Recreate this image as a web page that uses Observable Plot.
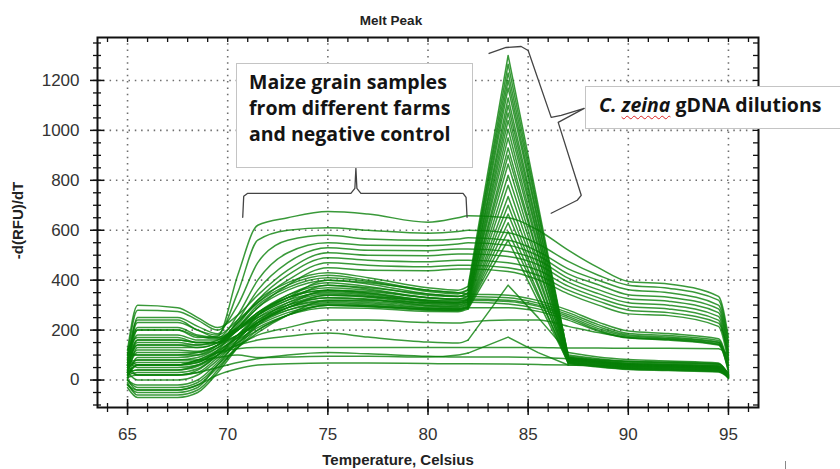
<!DOCTYPE html>
<html><head><meta charset="utf-8">
<script src="https://cdn.jsdelivr.net/npm/d3@7"></script>
<script src="https://cdn.jsdelivr.net/npm/@observablehq/plot@0.6"></script>
<style>
body{margin:0;background:#fff;}
#wrap{position:relative;width:840px;height:469px;overflow:hidden;}
#wrap svg{display:block;}
.box{position:absolute;background:#fff;border:1px solid #c4c4c4;box-sizing:border-box;}
.ann{position:absolute;font-family:"Open Sans",sans-serif;font-weight:700;font-size:19.5px;color:#141414;line-height:26px;white-space:nowrap;}
.wavy{text-decoration:underline wavy #d22;text-decoration-thickness:1px;text-underline-offset:3px;}
</style></head><body>
<div id="wrap"></div>
<script>
// Temperature grid (°C) shared by all curves
const temps = [65, 65.5, 67.5, 68.5, 69.5, 70.5, 71.5, 73, 75, 77, 80, 81.5, 82, 84, 85.5, 87, 88.5, 90, 92, 94.5, 95];

// C. zeina gDNA dilutions (melt peak at ~84 °C)
const zeinaCurves = [
  [60, 140, 140, 130, 150, 230, 320, 390, 430, 410, 370, 360, 375, 1300, 700, 95, 82, 72, 68, 62, 18],
  [20, 60, 60, 70, 120, 210, 300, 370, 410, 395, 355, 345, 360, 1265, 680, 92, 78, 68, 64, 58, 15],
  [90, 240, 240, 200, 180, 240, 310, 380, 420, 400, 360, 350, 362, 1230, 665, 100, 85, 75, 70, 64, 25],
  [0, -30, -30, -10, 60, 160, 260, 340, 390, 375, 340, 335, 350, 1200, 642, 85, 72, 62, 58, 52, 12],
  [40, 110, 110, 110, 140, 210, 290, 360, 400, 385, 345, 335, 345, 1170, 630, 90, 76, 66, 62, 56, 22],
  [120, 170, 170, 150, 150, 200, 270, 340, 380, 365, 330, 322, 335, 1130, 606, 82, 70, 60, 56, 50, 20],
  [10, 20, 20, 40, 100, 180, 260, 330, 370, 360, 330, 325, 338, 1100, 594, 88, 74, 64, 60, 54, 18],
  [70, 80, 80, 90, 130, 200, 270, 330, 360, 350, 320, 315, 326, 1070, 574, 78, 66, 56, 52, 46, 14],
  [-10, -60, -60, -40, 40, 140, 230, 310, 355, 345, 315, 310, 322, 1040, 563, 86, 72, 62, 58, 52, 25],
  [50, 120, 120, 115, 140, 200, 260, 320, 350, 340, 312, 306, 318, 1005, 540, 76, 62, 52, 48, 42, 12],
  [100, 200, 200, 175, 165, 210, 270, 330, 360, 348, 318, 310, 322, 970, 527, 84, 70, 60, 56, 50, 20],
  [30, 0, 0, 20, 80, 160, 240, 300, 340, 332, 305, 300, 312, 930, 502, 74, 60, 50, 46, 40, 16],
  [80, 50, 50, 60, 110, 180, 250, 310, 345, 335, 308, 302, 314, 900, 495, 90, 74, 64, 60, 54, 28],
  [-30, -70, -70, -50, 30, 130, 220, 290, 330, 325, 300, 296, 308, 865, 468, 72, 58, 48, 44, 38, 10],
  [60, 150, 150, 140, 150, 200, 250, 300, 330, 322, 298, 293, 305, 820, 452, 84, 70, 60, 56, 50, 22],
  [20, 30, 30, 45, 100, 170, 230, 290, 320, 315, 295, 290, 302, 780, 425, 70, 56, 46, 42, 36, 14],
  [110, 100, 100, 100, 130, 180, 240, 290, 315, 310, 290, 286, 298, 735, 408, 80, 66, 56, 52, 46, 24],
  [0, -20, -20, 0, 70, 150, 220, 280, 310, 305, 288, 284, 295, 700, 384, 68, 54, 44, 40, 34, 12],
  [50, 70, 70, 75, 115, 170, 230, 280, 305, 300, 285, 282, 292, 665, 374, 82, 68, 58, 54, 48, 20],
  [-20, -40, -40, -20, 50, 130, 200, 260, 300, 298, 282, 280, 290, 630, 348, 66, 52, 42, 38, 32, 8],
  [70, 160, 160, 150, 150, 180, 220, 270, 300, 295, 280, 278, 288, 595, 336, 78, 64, 54, 50, 44, 18],
  [30, 40, 40, 55, 100, 160, 210, 260, 290, 288, 275, 274, 284, 560, 315, 70, 56, 46, 42, 36, 14]
];

// Small secondary bumps
const bumpCurves = [
  [90, 60, 60, 70, 110, 140, 160, 175, 188, 172, 152, 148, 160, 380, 250, 110, 92, 82, 76, 68, 20],
  [40, 80, 80, 80, 90, 100, 90, 92, 95, 95, 92, 100, 108, 172, 110, 60, 56, 54, 52, 45, 5]
];

// Maize grain samples, high plateau
const maizeHigh = [
  [40, 200, 200, 170, 175, 420, 620, 650, 675, 665, 632, 650, 658, 650, 600, 520, 450, 395, 385, 335, 170],
  [20, 250, 250, 215, 185, 350, 560, 600, 610, 600, 588, 595, 600, 590, 545, 475, 420, 380, 368, 320, 150],
  [100, 280, 275, 240, 200, 300, 470, 560, 580, 565, 560, 565, 570, 560, 515, 445, 400, 362, 350, 300, 140],
  [60, 230, 230, 200, 170, 260, 400, 510, 550, 540, 538, 545, 550, 540, 498, 425, 382, 342, 332, 285, 120],
  [30, 160, 160, 150, 150, 240, 360, 470, 530, 520, 518, 525, 525, 515, 480, 408, 362, 326, 316, 270, 110],
  [120, 300, 290, 250, 210, 260, 340, 440, 510, 500, 498, 505, 505, 495, 462, 392, 346, 310, 300, 255, 90],
  [0, 90, 90, 100, 140, 220, 320, 420, 490, 480, 474, 480, 480, 470, 440, 376, 330, 295, 285, 240, 80],
  [70, 180, 180, 160, 160, 230, 310, 400, 470, 460, 454, 460, 460, 450, 420, 360, 316, 280, 270, 228, 100],
  [10, 130, 130, 130, 150, 210, 290, 380, 450, 440, 438, 445, 445, 435, 402, 345, 300, 265, 258, 215, 70]
];

// Maize grain samples, mid plateau
const maizeMid = [
  [50, 140, 140, 140, 160, 200, 260, 330, 400, 390, 360, 350, 345, 340, 318, 280, 232, 196, 186, 165, 60],
  [80, 210, 210, 180, 170, 210, 260, 320, 380, 370, 345, 336, 335, 330, 308, 270, 222, 186, 178, 158, 50],
  [20, 60, 60, 80, 120, 170, 230, 300, 360, 355, 330, 325, 325, 320, 300, 262, 214, 180, 172, 152, 40],
  [100, 100, 100, 110, 140, 180, 230, 290, 340, 335, 320, 318, 320, 315, 295, 255, 206, 175, 168, 150, 30],
  [-20, -50, -50, -30, 60, 130, 190, 260, 320, 320, 310, 310, 312, 305, 285, 248, 200, 170, 165, 145, 60],
  [40, 20, 20, 30, 90, 150, 200, 260, 300, 295, 285, 285, 290, 290, 275, 240, 196, 168, 162, 142, 80],
  [30, 40, 40, 60, 100, 140, 180, 210, 240, 240, 230, 228, 232, 240, 240, 215, 190, 170, 160, 140, 40]
];

// Negative controls / low curves
const lowCurves = [
  [30, 60, 60, 80, 110, 125, 130, 130, 130, 130, 130, 130, 130, 130, 130, 128, 128, 127, 127, 125, 100],
  [0, -40, -40, -20, 20, 45, 60, 65, 68, 68, 66, 65, 65, 64, 62, 60, 58, 56, 54, 48, 10],
  [60, 20, 20, 30, 50, 70, 85, 100, 110, 105, 95, 92, 92, 92, 90, 85, 80, 75, 72, 65, 20]
];

// Axis ticks
const xMajor = [65, 70, 75, 80, 85, 90, 95];
const xMinor = d3.range(64, 97, 1);
const yMajor = [0, 200, 400, 600, 800, 1000, 1200];
const yMinor = d3.range(-100, 1351, 50);

// Annotation braces (in data units)
const brace1T = [70.75, 70.8, 71.0, 76.15, 76.35, 76.4, 76.45, 76.65, 81.75, 81.9, 81.95];
const brace1V = [652, 736, 748, 748, 768, 848, 768, 748, 748, 732, 652];
const brace2T = [83.05, 83.9, 84.65, 85.0, 86.15, 86.65, 87.8, 86.5, 87.65, 87.45, 86.15];
const brace2V = [1308, 1332, 1336, 1320, 1052, 1060, 1088, 1032, 740, 720, 668];

const smoothRows = [], sharpRows = [];
function addCurves(name, curves, peaked) {
  curves.forEach((vals, i) => {
    const id = name + i;
    vals.forEach((v, k) => {
      if (!peaked) smoothRows.push({id, t: temps[k], v});
      else {
        if (k <= 12) smoothRows.push({id: id + "a", t: temps[k], v});
        if (k >= 12 && k <= 15) sharpRows.push({id: id + "b", t: temps[k], v});
        if (k >= 15) smoothRows.push({id: id + "c", t: temps[k], v});
      }
    });
  });
}
addCurves("low", lowCurves, false);
addCurves("mid", maizeMid, false);
addCurves("high", maizeHigh, false);
addCurves("bump", bumpCurves, true);
addCurves("zeina", zeinaCurves, true);

const b1 = brace1T.map((t, i) => ({t, v: brace1V[i]}));
const b2 = brace2T.map((t, i) => ({t, v: brace2V[i]}));

const GREEN = "#078007";
const lineStyle = {x: "t", y: "v", z: "id", stroke: GREEN, strokeOpacity: 0.8, strokeWidth: 1.5};
const FW = 661, FH = 370;

const chart = Plot.plot({
  width: 840, height: 469,
  marginLeft: 97, marginRight: 82, marginTop: 37, marginBottom: 62,
  x: {domain: [63.5, 96.5]},
  y: {domain: [-110, 1372]},
  style: {fontFamily: "'Liberation Sans', Arial, sans-serif", background: "white"},
  marks: [
    Plot.gridX(xMajor, {stroke: "#6f6f6f", strokeOpacity: 1, strokeWidth: 1.6, strokeDasharray: "1.5,4.8"}),
    Plot.gridY(yMajor, {stroke: "#6f6f6f", strokeOpacity: 1, strokeWidth: 1.6, strokeDasharray: "1.5,4.8"}),
    Plot.line(smoothRows, {...lineStyle, curve: "monotone-x"}),
    Plot.line(sharpRows, {...lineStyle, curve: "linear"}),
    Plot.frame({stroke: "#111", strokeWidth: 2}),
    Plot.tickX(xMinor, {x: d => d, stroke: "#111", strokeWidth: 1.3, insetTop: FH - 4, insetBottom: -5}),
    Plot.tickX(xMajor, {x: d => d, stroke: "#111", strokeWidth: 1.5, insetTop: FH - 8, insetBottom: -8}),
    Plot.tickX(xMinor, {x: d => d, stroke: "#111", strokeWidth: 1.3, insetBottom: FH - 5}),
    Plot.tickY(yMinor, {y: d => d, stroke: "#111", strokeWidth: 1.3, insetLeft: -4, insetRight: FW - 4}),
    Plot.tickY(yMajor, {y: d => d, stroke: "#111", strokeWidth: 1.5, insetLeft: -7, insetRight: FW - 7}),
    Plot.tickY(yMinor, {y: d => d, stroke: "#111", strokeWidth: 1.3, insetLeft: FW - 5}),
    Plot.axisX({ticks: xMajor, tickSize: 0, tickPadding: 20, fontSize: 17, fill: "#333", tickFormat: d => String(d), label: null}),
    Plot.axisY({ticks: yMajor, tickSize: 0, tickPadding: 18, fontSize: 17, fill: "#333", tickFormat: d => String(d), label: null}),
    Plot.line(b1, {x: "t", y: "v", stroke: "#444", strokeWidth: 1.3}),
    Plot.line(b2, {x: "t", y: "v", stroke: "#444", strokeWidth: 1.3}),
    Plot.text(["Melt Peak"], {text: d => d, frameAnchor: "top", dx: -37, dy: -17, lineAnchor: "middle", textAnchor: "middle", fontWeight: "bold", fontSize: 13.5, fill: "#222"}),
    Plot.text(["Temperature, Celsius"], {text: d => d, frameAnchor: "bottom", dx: -30, dy: 53, lineAnchor: "middle", textAnchor: "middle", fontWeight: "bold", fontSize: 15, fill: "#222"}),
    Plot.text(["-d(RFU)/dT"], {text: d => d, frameAnchor: "left", dx: -79, dy: -2, rotate: -90, lineAnchor: "middle", textAnchor: "middle", fontWeight: "bold", fontSize: 15, fill: "#222"})
  ]
});

const wrap = document.getElementById("wrap");
wrap.appendChild(chart);

function el(cls, css, html) {
  const d = document.createElement("div");
  d.className = cls;
  d.style.cssText = css;
  if (html) d.innerHTML = html;
  wrap.appendChild(d);
  return d;
}
el("box", "left:236px;top:63px;width:237px;height:105px;");
el("ann", "left:249px;top:69px;", "Maize grain samples<br>from different farms<br>and negative control");
el("box", "left:585px;top:86px;width:300px;height:43px;");
el("ann", "left:599px;top:92px;", "<i>C. <span class=\"wavy\">zeina</span></i> gDNA dilutions");
el("", "position:absolute;left:785px;top:461px;width:1px;height:8px;background:#888;");
</script>
</body></html>
